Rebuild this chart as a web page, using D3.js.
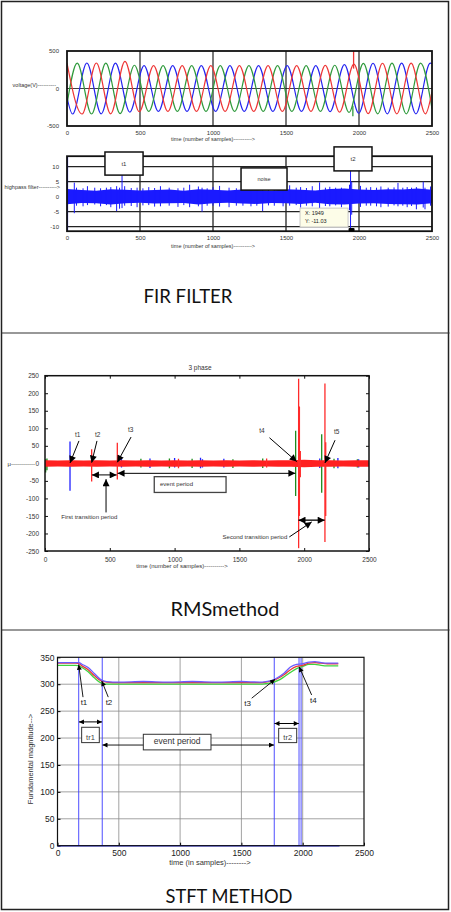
<!DOCTYPE html>
<html>
<head>
<meta charset="utf-8">
<script src="https://cdn.jsdelivr.net/npm/d3@7"></script>
<style>
  body { margin: 0; background: #fff; }
  svg text { font-family: "Liberation Sans", Arial, sans-serif; }
</style>
</head>
<body>
<div id="chart"></div>
<script>
// ---------- data ----------
const sampleTicks = [0, 500, 1000, 1500, 2000, 2500];
const gridSamples = [500, 1000, 1500, 2000];

// FIR filter: voltage extremes of each phase [sample, volts]
const phaseRed = [[0,338],[103,-340],[201,340],[299,-338],[397,362],[495,-310],[593,305],[691,-305],[789,305],[887,-305],[985,305],[1083,-305],[1181,305],[1279,-305],[1377,305],[1475,-305],[1573,305],[1671,-305],[1769,308],[1867,-315],[1965,325],[2063,-335],[2161,337],[2259,-337],[2357,337],[2455,-337],[2500,-42]];
const phaseGreen = [[0,-210],[70,338],[168,-340],[266,338],[364,-335],[462,310],[560,-305],[658,305],[756,-305],[854,305],[952,-305],[1050,305],[1148,-305],[1246,305],[1344,-305],[1442,305],[1540,-305],[1638,305],[1736,-305],[1834,310],[1932,-318],[2030,335],[2128,-337],[2226,337],[2324,-337],[2422,337],[2500,-270]];
const phaseBlue = [[0,-117],[38,-340],[136,340],[234,-338],[332,338],[430,-315],[528,305],[626,-305],[724,305],[822,-305],[920,305],[1018,-305],[1116,305],[1214,-305],[1312,305],[1410,-305],[1508,305],[1606,-305],[1704,305],[1802,-308],[1900,318],[1998,-330],[2096,337],[2194,-337],[2292,337],[2390,-337],[2488,337],[2500,330]];
const voltageTicks = [-500, 0, 500];

// highpass filter output: noise envelope and spikes
const noiseX = [0,100,200,300,400,500,600,700,800,900,1000,1100,1200,1300,1400,1500,1600,1700,1800,1900,2000,2100,2200,2300,2400,2500];
const noiseHi = [2.6,2.2,2.0,2.5,2.3,2.1,2.2,2.4,2.0,2.5,2.3,2.1,2.4,2.2,2.0,2.5,2.3,2.1,2.6,2.7,2.4,2.2,2.5,2.4,2.7,2.3];
const noiseLo = [-2.5,-2.1,-2.2,-2.6,-2.2,-2.0,-2.3,-2.2,-2.1,-2.6,-2.2,-2.0,-2.3,-2.4,-2.1,-2.2,-2.4,-2.0,-2.5,-2.6,-2.3,-2.2,-2.4,-2.5,-2.6,-2.2];
const noiseSpikes = [[50,4.7,-5.5],[65,3,-3],[110,2.8,-3.2],[140,3.5,-2.8],[190,3.0,-2.6],[230,2.8,-3.2],[270,3.0,-2.8],[300,3.2,-3.5],[340,3.5,-4.8],[360,3.0,-4.0],[377,7.3,-3.8],[395,3.5,-3],[440,2.9,-3.1],[480,3,-3.5],[520,2.8,-2.9],[560,3.2,-2.8],[600,2.9,-3.3],[640,3.5,-3.2],[700,3.0,-3.0],[760,2.8,-3.4],[800,3.0,-2.8],[840,4.0,-3.5],[900,3.4,-3.2],[925,3.0,-5.0],[960,2.8,-3.0],[1000,3.2,-3.0],[1045,3.6,-3.3],[1110,3.0,-3.5],[1160,2.8,-3.0],[1205,3.5,-3],[1260,3.0,-3.2],[1300,2.7,-3.0],[1340,3.4,-4.8],[1380,3.0,-2.9],[1420,3.0,-3.0],[1480,2.9,-3.2],[1525,3.8,-3.0],[1570,3.0,-2.8],[1600,3.2,-3.6],[1640,2.9,-3.0],[1680,3.5,-3.2],[1730,4.8,-3.8],[1770,3.0,-3.1],[1800,3.3,-3.2],[1840,3.0,-2.9],[1880,3.0,-3.5],[1935,4.0,-4.5],[1942,8.7,-11.0],[1950,5,-6],[2010,3.6,-3.4],[2050,3.0,-3.0],[2080,3.2,-3.0],[2120,3.0,-3.2],[2150,3.4,-3.5],[2200,3.0,-3.3],[2240,3.1,-2.9],[2267,4.6,-3.2],[2300,3.0,-3.0],[2330,3.2,-3.5],[2360,3.0,-3.1],[2393,3.2,-4.2],[2440,5.0,-3.6],[2452,3.0,-4.2],[2490,3.4,-3.0]];
const noiseTicks = [-10, -5, 0, 5, 10];

// RMS method: band around zero and the transient spikes [sample, high, low]
const rmsX = [0,100,200,300,400,500,600,700,800,900,1000,1100,1200,1300,1400,1500,1600,1700,1800,1900,2000,2100,2200,2300,2400,2500];
const rmsHi = [9,8,9,8,9,8,9,8,9,8,9,8,9,8,9,8,9,8,9,9,10,9,9,8,9,9];
const rmsLo = [-10,-9,-10,-9,-10,-9,-10,-9,-10,-9,-10,-9,-10,-9,-10,-9,-10,-9,-10,-10,-11,-10,-10,-9,-10,-10];
const rmsBlue = [[193,62,-78],[590,13,-12],[810,14,-13],[1000,15,-12],[1200,16,-14],[1215,12,-12],[1380,13,-12],[2120,14,-13],[2260,15,-14],[2420,12,-12]];
const rmsGreen = [[5,12,-26],[15,14,-20],[740,13,-12],[960,14,-14],[1135,13,-13],[1450,12,-13],[1680,14,-13],[1934,93,-93],[2135,83,-84],[2230,13,-14],[2410,12,-12]];
const rmsRed = [[360,40,-52],[558,59,-46],[1030,13,-14],[1710,14,-12],[1957,241,-242],[1963,162,-150],[1970,35,-40],[2160,228,-224],[2166,60,-150]];
const rmsTicks = [-250,-200,-150,-100,-50,0,50,100,150,200,250];

// STFT method: fundamental magnitude of each phase
const stftX = [0,50,100,150,175,200,250,300,350,400,500,700,900,1100,1300,1500,1650,1700,1750,1800,1850,1900,1950,2000,2050,2100,2150,2200,2250,2290];
const stftRed = [339,339,339,339,338,334,327,316,307,304,303,303,303,303,303,303,303,304,306,311,318,327,333,335,339,340,339,338,338,338];
const stftGreen = [335,335,335,335,334,331,323,312,303,300,300,300,300,300,300,300,300,301,303,307,314,322,329,333,337,337,335,334,334,334];
const stftBlue = [340,340,340,340,340,337,331,320,309,305,304,305,304,305,304,305,304,305,307,313,321,332,337,338,341,342,340,339,339,339];
const stftEvents = [173, 365, 1768, 1970, 1987];
const stftEnd = 2300;
const magnitudeTicks = [0,50,100,150,200,250,300,350];

// ---------- canvas ----------
const svg = d3.select("#chart").append("svg")
  .attr("width", 451).attr("height", 912);

const defs = svg.append("defs");
function marker(id, w, h) {
  defs.append("marker").attr("id", id)
    .attr("viewBox", "0 0 10 10").attr("refX", 10).attr("refY", 5)
    .attr("markerWidth", w).attr("markerHeight", h)
    .attr("markerUnits", "userSpaceOnUse").attr("orient", "auto-start-reverse")
    .append("path").attr("d", "M0,0L10,5L0,10z").attr("fill", "#000");
}
marker("big", 8, 7);
marker("mid", 7, 5);

function clipFor(id, x, y) {
  defs.append("clipPath").attr("id", id).append("rect")
    .attr("x", x.range()[0]).attr("y", y.range()[1])
    .attr("width", x.range()[1] - x.range()[0])
    .attr("height", y.range()[0] - y.range()[1]);
}

function spikes(g, x, y, rows, color, w) {
  g.selectAll(null).data(rows).enter().append("line")
    .attr("x1", d => x(d[0])).attr("x2", d => x(d[0]))
    .attr("y1", d => y(d[1])).attr("y2", d => y(d[2]))
    .attr("stroke", color).attr("stroke-width", w);
}

function arrow(g, x, y, a, b, id, both, w) {
  const l = g.append("line")
    .attr("x1", x(a[0])).attr("y1", y(a[1]))
    .attr("x2", x(b[0])).attr("y2", y(b[1]))
    .attr("stroke", "#000").attr("stroke-width", w)
    .attr("marker-end", `url(#${id})`);
  if (both) l.attr("marker-start", `url(#${id})`);
}

function box(g, x, y, s0, s1, v0, v1, fill, stroke, w) {
  g.append("rect")
    .attr("x", x(s0)).attr("y", y(v0))
    .attr("width", x(s1) - x(s0)).attr("height", y(v1) - y(v0))
    .attr("fill", fill).attr("stroke", stroke).attr("stroke-width", w);
}

function label(g, px, py, txt, size, anchor, color) {
  return g.append("text").attr("x", px).attr("y", py)
    .attr("font-size", size).attr("text-anchor", anchor || "middle")
    .attr("fill", color || "#333").text(txt);
}

// outer frame and separators
svg.append("rect").attr("x", 1.5).attr("y", 1.5).attr("width", 447).attr("height", 908)
  .attr("fill", "none").attr("stroke", "#222").attr("stroke-width", 1.5);
[333, 630].forEach(yy => svg.append("line")
  .attr("x1", 1.5).attr("x2", 449.5).attr("y1", yy).attr("y2", yy)
  .attr("stroke", "#333").attr("stroke-width", 1.2));

// ---------- panel 1: three phase voltage ----------
const x1 = d3.scaleLinear().domain([0, 2500]).range([67, 432]);
const y1 = d3.scaleLinear().domain([-500, 500]).range([126, 51]);
clipFor("c1", x1, y1);
const p1 = svg.append("g");

p1.selectAll(null).data(gridSamples).enter().append("line")
  .attr("x1", d => x1(d)).attr("x2", d => x1(d))
  .attr("y1", y1(-500)).attr("y2", y1(500))
  .attr("stroke", "#333").attr("stroke-width", 1.3);
p1.append("line").attr("x1", x1(0)).attr("x2", x1(2500))
  .attr("y1", y1(0)).attr("y2", y1(0)).attr("stroke", "#111").attr("stroke-width", 0.8);

const wave = d3.line().x(d => x1(d[0])).y(d => y1(d[1])).curve(d3.curveMonotoneX);
const w1 = p1.append("g").attr("clip-path", "url(#c1)");
[[phaseBlue, "#2424f0"], [phaseGreen, "#2f9a3c"], [phaseRed, "#ee3535"]].forEach(([d, c]) => {
  w1.append("path").datum(d).attr("d", wave)
    .attr("fill", "none").attr("stroke", c).attr("stroke-width", 1.2);
});
spikes(w1, x1, y1, [[1963, 500, 265]], "#ee3535", 1.3);
spikes(w1, x1, y1, [[1958, -230, -370]], "#2f9a3c", 1.3);

p1.append("rect").attr("x", x1(0)).attr("y", y1(500))
  .attr("width", x1(2500) - x1(0)).attr("height", y1(-500) - y1(500))
  .attr("fill", "none").attr("stroke", "#111").attr("stroke-width", 1.8);

p1.append("g").attr("transform", `translate(0,${y1(-500) + 2})`)
  .call(d3.axisBottom(x1).tickValues(sampleTicks).tickSize(0).tickFormat(d => d))
  .call(g => g.select(".domain").remove())
  .selectAll("text").attr("font-size", 6).attr("fill", "#333");
p1.append("g").attr("transform", `translate(${x1(0) - 5},0)`)
  .call(d3.axisLeft(y1).tickValues(voltageTicks).tickSize(0).tickFormat(d => d))
  .call(g => g.select(".domain").remove())
  .selectAll("text").attr("font-size", 6).attr("fill", "#333");
label(p1, 56, 87, "voltage(V)----------", 5.5, "end");
label(p1, 213, 141, "time (number of samples)---------->", 5.5);

// ---------- panel 2: highpass filter ----------
const x2 = d3.scaleLinear().domain([0, 2500]).range([67, 432]);
const y2 = d3.scaleLinear().domain([-11.5, 13.5]).range([231.2, 156.2]);
clipFor("c2", x2, y2);
const p2 = svg.append("g");

p2.selectAll(null).data(gridSamples).enter().append("line")
  .attr("x1", d => x2(d)).attr("x2", d => x2(d))
  .attr("y1", y2(-11.5)).attr("y2", y2(13.5))
  .attr("stroke", "#222").attr("stroke-width", 1.3);
p2.selectAll(null).data([-10, -5, 5, 10]).enter().append("line")
  .attr("x1", x2(0)).attr("x2", x2(2500))
  .attr("y1", d => y2(d)).attr("y2", d => y2(d))
  .attr("stroke", "#222").attr("stroke-width", 1.3);

const n2 = p2.append("g").attr("clip-path", "url(#c2)");
const noiseArea = d3.area()
  .x(d => x2(d)).y0((d, i) => y2(noiseLo[i])).y1((d, i) => y2(noiseHi[i]))
  .curve(d3.curveLinear);
n2.append("path").datum(noiseX).attr("d", noiseArea).attr("fill", "#1a1aff");
spikes(n2, x2, y2, noiseSpikes, "#1a1aff", 1);
spikes(n2, x2, y2, [[0, 13.5, -11.5]], "#1a1aff", 2.2);

p2.append("rect").attr("x", x2(0)).attr("y", y2(13.5))
  .attr("width", x2(2500) - x2(0)).attr("height", y2(-11.5) - y2(13.5))
  .attr("fill", "none").attr("stroke", "#111").attr("stroke-width", 1.8);

// annotation boxes
box(p2, x2, y2, 260, 521, 14.9, 7.2, "#fff", "#111", 1.5);
label(p2, x2(390), y2(10.4), "t1", 6);
box(p2, x2, y2, 1192, 1507, 9.6, 2.2, "#fff", "#111", 1.5);
label(p2, x2(1350), y2(5.3), "noise", 5.5);
box(p2, x2, y2, 1829, 2089, 16.6, 8.6, "#fff", "#111", 1.5);
label(p2, x2(1959), y2(11.9), "t2", 6);

// data tip
box(p2, x2, y2, 1596, 1925, -3.8, -10.1, "#fdfde8", "#bbb", 0.8);
label(p2, x2(1630), y2(-6.2), "X: 1949", 5.5, "start", "#222");
label(p2, x2(1630), y2(-8.8), "Y: -11.03", 5.5, "start", "#222");
p2.append("rect").attr("x", x2(1949) - 3).attr("y", y2(-11.03) - 1.8)
  .attr("width", 6).attr("height", 3.6).attr("rx", 1).attr("fill", "#000");

p2.append("g").attr("transform", `translate(0,${y2(-11.5) + 2})`)
  .call(d3.axisBottom(x2).tickValues(sampleTicks).tickSize(0).tickFormat(d => d))
  .call(g => g.select(".domain").remove())
  .selectAll("text").attr("font-size", 6).attr("fill", "#333");
p2.append("g").attr("transform", `translate(${x2(0) - 5},0)`)
  .call(d3.axisLeft(y2).tickValues(noiseTicks).tickSize(0).tickFormat(d => d))
  .call(g => g.select(".domain").remove())
  .selectAll("text").attr("font-size", 6).attr("fill", "#333");
label(p2, 60, 189, "highpass filter---------->", 5.5, "end");
label(p2, 213, 248, "time (number of samples)---------->", 5.5);

// panel title
label(svg, 188, 303, "FIR FILTER", 20, "middle", "#111")
  .style("font-family", "Lato, 'Open Sans', sans-serif")
  .attr("textLength", 89).attr("lengthAdjust", "spacingAndGlyphs");

// ---------- panel 3: RMS method ----------
const x3 = d3.scaleLinear().domain([0, 2500]).range([45, 369]);
const y3 = d3.scaleLinear().domain([-250, 250]).range([551, 375.7]);
clipFor("c3", x3, y3);
const p3 = svg.append("g");

// tick marks on all four sides, pointing inward
p3.append("g").attr("transform", `translate(0,${y3(-250)})`)
  .call(d3.axisBottom(x3).tickValues(sampleTicks).tickSizeInner(-3).tickSizeOuter(0).tickPadding(6).tickFormat(d => d))
  .call(g => g.select(".domain").remove())
  .selectAll("text").attr("font-size", 6.5).attr("fill", "#333");
p3.append("g").attr("transform", `translate(0,${y3(250)})`)
  .call(d3.axisTop(x3).tickValues(sampleTicks).tickSizeInner(-3).tickSizeOuter(0).tickFormat(""))
  .call(g => g.select(".domain").remove());
p3.append("g").attr("transform", `translate(${x3(0)},0)`)
  .call(d3.axisLeft(y3).tickValues(rmsTicks).tickSizeInner(-3).tickSizeOuter(0).tickPadding(6).tickFormat(d => d))
  .call(g => g.select(".domain").remove())
  .selectAll("text").attr("font-size", 6.5).attr("fill", "#333");
p3.append("g").attr("transform", `translate(${x3(2500)},0)`)
  .call(d3.axisRight(y3).tickValues(rmsTicks).tickSizeInner(-3).tickSizeOuter(0).tickFormat(""))
  .call(g => g.select(".domain").remove());
p3.selectAll(".tick line").attr("stroke", "#111").attr("stroke-width", 1);

const r3 = p3.append("g").attr("clip-path", "url(#c3)");
spikes(r3, x3, y3, rmsBlue, "#2020ff", 1.3);
spikes(r3, x3, y3, rmsGreen, "#1c8c1c", 1.3);
const rmsArea = d3.area()
  .x(d => x3(d)).y0((d, i) => y3(rmsLo[i])).y1((d, i) => y3(rmsHi[i]));
r3.append("path").datum(rmsX).attr("d", rmsArea).attr("fill", "#ff2020");
spikes(r3, x3, y3, rmsRed, "#ff2a2a", 1.3);

p3.append("rect").attr("x", x3(0)).attr("y", y3(250))
  .attr("width", x3(2500) - x3(0)).attr("height", y3(-250) - y3(250))
  .attr("fill", "none").attr("stroke", "#111").attr("stroke-width", 1.5);

label(p3, 200, 370, "3 phase", 6.5);
label(p3, 182, 568, "time (number of samples)---------->", 6);
label(p3, 35, 465.5, "μ------------", 6, "end");

// event labels and arrows
label(p3, x3(252), y3(76), "t1", 6.5);
arrow(p3, x3, y3, [262, 64], [193, 1], "big", false, 1);
label(p3, x3(407), y3(76), "t2", 6.5);
arrow(p3, x3, y3, [401, 64], [360, 2], "big", false, 1);
label(p3, x3(661), y3(88), "t3", 6.5);
arrow(p3, x3, y3, [664, 75], [558, 3], "big", false, 1);
label(p3, x3(1674), y3(87), "t4", 6.5);
arrow(p3, x3, y3, [1732, 73], [1942, 5], "big", false, 1);
label(p3, x3(2251), y3(84), "t5", 6.5);
arrow(p3, x3, y3, [2238, 66], [2160, 1], "big", false, 1);

arrow(p3, x3, y3, [362, -33], [553, -33], "big", true, 1);
arrow(p3, x3, y3, [471, -140], [471, -45], "big", false, 1);
label(p3, x3(342), y3(-159), "First transition period", 6);
arrow(p3, x3, y3, [560, -28.5], [1932, -28.5], "big", true, 1);
box(p3, x3, y3, 843, 1397, -38, -83, "#fff", "#444", 1.3);
label(p3, x3(887), y3(-65), "event period", 6, "start");
arrow(p3, x3, y3, [1956, -162], [2158, -162], "big", true, 1.3);
arrow(p3, x3, y3, [1885, -210], [2058, -167], "big", false, 1);
label(p3, x3(1620), y3(-217), "Second transition period", 6);

label(svg, 225, 616, "RMSmethod", 20, "middle", "#111")
  .style("font-family", "Lato, 'Open Sans', sans-serif")
  .attr("textLength", 109).attr("lengthAdjust", "spacingAndGlyphs");

// ---------- panel 4: STFT method ----------
const x4 = d3.scaleLinear().domain([0, 2500]).range([57.5, 364]);
const y4 = d3.scaleLinear().domain([0, 350]).range([845.7, 657.3]);
const p4 = svg.append("g");

// grid lines
p4.selectAll(null).data(gridSamples).enter().append("line")
  .attr("x1", d => x4(d)).attr("x2", d => x4(d))
  .attr("y1", y4(0)).attr("y2", y4(350))
  .attr("stroke", "#8a8a8a").attr("stroke-width", 0.8);
p4.selectAll(null).data(magnitudeTicks.slice(1, -1)).enter().append("line")
  .attr("x1", x4(0)).attr("x2", x4(2500))
  .attr("y1", d => y4(d)).attr("y2", d => y4(d))
  .attr("stroke", "#8a8a8a").attr("stroke-width", 0.8);

p4.append("g").attr("transform", `translate(0,${y4(0)})`)
  .call(d3.axisBottom(x4).tickValues(sampleTicks).tickSizeInner(-3).tickSizeOuter(0).tickPadding(4).tickFormat(d => d))
  .call(g => g.select(".domain").remove())
  .selectAll("text").attr("font-size", 8.5).attr("fill", "#222");
p4.append("g").attr("transform", `translate(${x4(0)},0)`)
  .call(d3.axisLeft(y4).tickValues(magnitudeTicks).tickSizeInner(-3).tickSizeOuter(0).tickPadding(3).tickFormat(d => d))
  .call(g => g.select(".domain").remove())
  .selectAll("text").attr("font-size", 8.5).attr("fill", "#222");

// event markers and baseline
p4.selectAll(null).data(stftEvents).enter().append("line")
  .attr("x1", d => x4(d)).attr("x2", d => x4(d))
  .attr("y1", y4(0)).attr("y2", y4(350))
  .attr("stroke", "#3a3aff").attr("stroke-width", 0.9);
p4.append("line").attr("x1", x4(0)).attr("x2", x4(stftEnd))
  .attr("y1", y4(0)).attr("y2", y4(0)).attr("stroke", "#3a3aff").attr("stroke-width", 1.4);

const mag = d3.line().x((d, i) => x4(stftX[i])).y(d => y4(d)).curve(d3.curveMonotoneX);
[[stftGreen, "#3fd33f"], [stftRed, "#e83a3a"], [stftBlue, "#6c5cff"]].forEach(([d, c]) => {
  p4.append("path").datum(d).attr("d", mag)
    .attr("fill", "none").attr("stroke", c).attr("stroke-width", 1.3);
});

p4.append("rect").attr("x", x4(0)).attr("y", y4(350))
  .attr("width", x4(2500) - x4(0)).attr("height", y4(0) - y4(350))
  .attr("fill", "none").attr("stroke", "#111").attr("stroke-width", 1.2);

// annotations
label(p4, x4(216), y4(261), "t1", 8, "middle", "#222");
arrow(p4, x4, y4, [208, 276], [173, 336], "mid", false, 0.9);
label(p4, x4(420), y4(261), "t2", 8, "middle", "#222");
arrow(p4, x4, y4, [414, 276], [361, 306], "mid", false, 0.9);
label(p4, x4(1551), y4(259), "t3", 8, "middle", "#222");
arrow(p4, x4, y4, [1584, 274], [1774, 309], "mid", false, 0.9);
label(p4, x4(2086), y4(265), "t4", 8, "middle", "#222");
arrow(p4, x4, y4, [2073, 280], [1972, 332], "mid", false, 0.9);

arrow(p4, x4, y4, [175, 230], [363, 230], "mid", true, 1);
box(p4, x4, y4, 197, 341, 220, 191.5, "#fff", "#333", 1);
label(p4, x4(269), y4(197), "tr1", 7.5, "middle", "#444");
arrow(p4, x4, y4, [1770, 227], [1968, 227], "mid", true, 1);
box(p4, x4, y4, 1804, 1951, 218, 191.5, "#fff", "#333", 1);
label(p4, x4(1878), y4(197), "tr2", 7.5, "middle", "#444");
arrow(p4, x4, y4, [367, 187], [1766, 187], "mid", true, 0.9);
box(p4, x4, y4, 700, 1252, 207, 178, "#fff", "#333", 1);
label(p4, x4(976), y4(189), "event period", 8.5, "middle", "#333");

label(p4, 210, 865, "time (in samples)-------->", 7.5, "middle", "#333");
p4.append("text").attr("transform", "translate(33,759) rotate(-90)")
  .attr("text-anchor", "middle").attr("font-size", 7.5).attr("fill", "#333")
  .text("Fundamental magnitude-->");

label(svg, 229, 903, "STFT METHOD", 20, "middle", "#111")
  .style("font-family", "Lato, 'Open Sans', sans-serif")
  .attr("textLength", 127).attr("lengthAdjust", "spacingAndGlyphs");
</script>
</body>
</html>
